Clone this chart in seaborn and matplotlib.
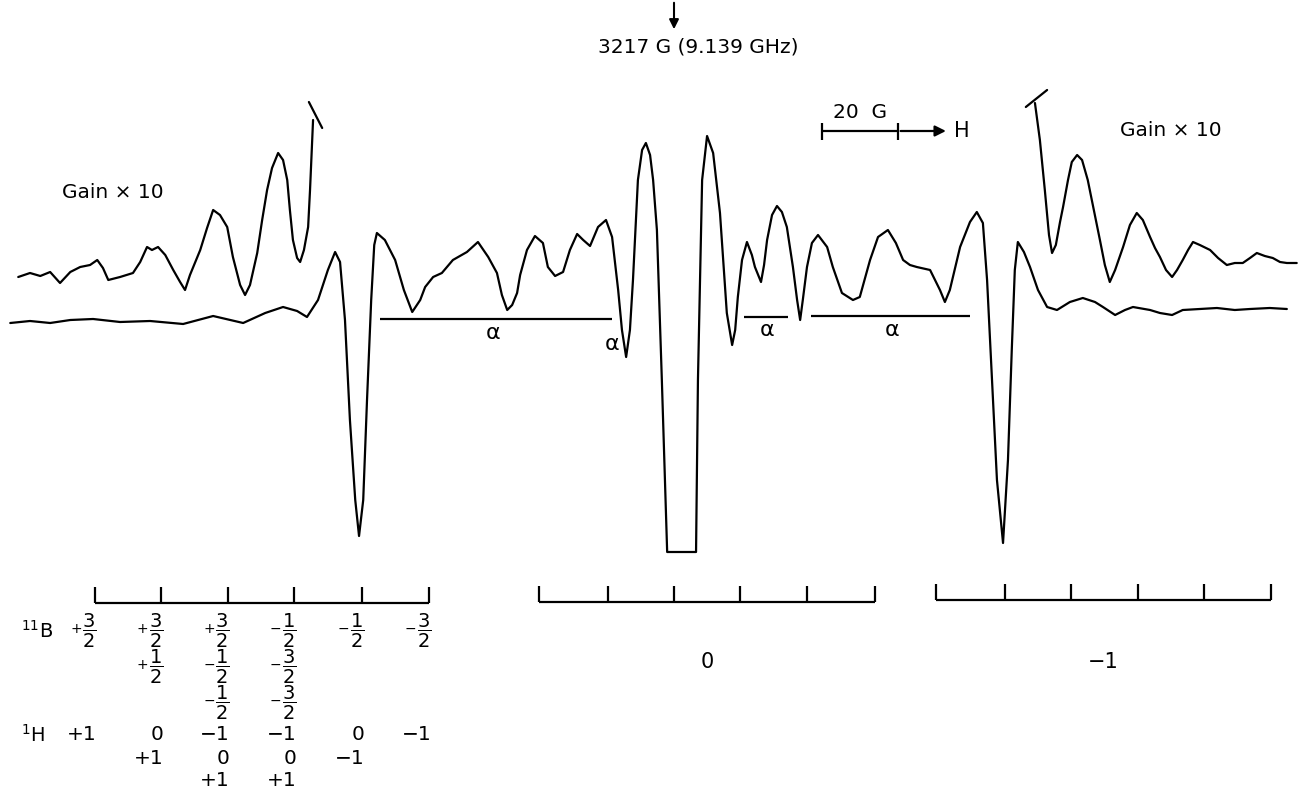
import numpy as np
import pandas as pd
import matplotlib.pyplot as plt
import seaborn as sns

# field offset from 3217 G (gauss) and derivative signal (arb. units)
main_field = [-174.7, -169.5, -164.2, -158.9, -152.9, -145.8, -137.9, -129.2, -121.3, -113.4,
              -107.6, -102.9, -99.2, -96.6, -93.7, -91.1, -89.2, -87.9, -86.6, -85.3,
              -83.9, -82.9, -81.8, -80.8, -79.7, -78.9, -78.2, -76.1, -73.4, -71.1,
              -68.9, -66.8, -65.5, -63.4, -61.1, -58.2, -54.5, -51.6, -48.9, -46.6,
              -45.3, -43.9, -42.6, -41.3, -40.5, -38.7, -36.6, -34.5, -33.2, -31.3,
              -29.2, -27.4, -25.5, -23.9, -22.1, -20.0, -17.9, -16.3, -14.7, -13.7,
              -12.6, -11.6, -10.8, -9.5, -8.4, -7.4, -6.3, -5.5, -4.5, -3.2,
              -1.8, 5.8, 6.3, 7.4, 8.7, 10.3, 12.1, 13.9, 15.3, 16.1,
              16.8, 17.9, 19.2, 20.5, 21.3, 22.9, 23.7, 24.5, 25.8, 27.1,
              28.4, 29.7, 31.3, 32.4, 33.2, 33.9, 35.0, 36.3, 37.9, 38.9,
              40.3, 41.8, 44.2, 47.1, 48.9, 51.6, 53.7, 56.3, 58.4, 60.3,
              62.1, 63.9, 67.4, 70.0, 71.3, 72.6, 75.3, 77.9, 79.7, 81.3,
              82.4, 83.7, 85.0, 86.6, 87.9, 88.9, 89.7, 90.5, 92.1, 93.7,
              95.8, 98.2, 100.8, 104.2, 107.6, 110.8, 112.9, 116.1, 118.7, 120.8,
              125.3, 127.9, 131.1, 133.9, 138.4, 142.9, 147.6, 151.6, 156.8, 161.3]
main_signal = [-1, 1, -1, 2, 3, 0, 1, -2, 6, -1,
               9, 15, 11, 5, 22, 52, 70, 60, 2, -98,
               -178, -214, -178, -78, 22, 77, 89, 82, 62, 32,
               10, 22, 35, 45, 49, 62, 70, 80, 65, 49,
               27, 12, 17, 29, 47, 72, 86, 79, 55, 46,
               50, 72, 88, 82, 76, 95, 102, 85, 32, -8,
               -35, -8, 42, 142, 172, 179, 167, 142, 92, -58,
               -230, -230, -58, 142, 186, 169, 109, 9, -23, -8,
               25, 62, 80, 67, 55, 40, 57, 82, 107, 116,
               110, 95, 55, 22, 2, 22, 55, 79, 87, 82,
               75, 55, 29, 22, 25, 62, 85, 92, 79, 62,
               57, 55, 52, 32, 20, 32, 75, 100, 110, 99,
               42, -58, -158, -221, -138, -28, 52, 80, 70, 55,
               32, 15, 12, 20, 24, 20, 15, 7, 12, 15,
               12, 9, 7, 12, 13, 14, 12, 13, 14, 13]

# gain x10 wings
left_field = [-172.6, -169.5, -166.8, -164.2, -161.6, -158.9, -156.3, -153.7, -151.8, -150.3,
              -148.9, -145.8, -142.4, -140.5, -138.7, -137.4, -135.8, -133.9, -131.8, -130.0,
              -128.7, -127.4, -124.7, -122.9, -121.3, -119.5, -117.6, -116.1, -114.2, -112.9,
              -111.6, -109.7, -108.4, -107.1, -105.8, -104.2, -102.9, -101.8, -101.1, -100.3,
              -99.2, -98.4, -97.4, -96.3, -95.8, -95.0]
left_signal = [45, 49, 46, 50, 39, 50, 55, 57, 62, 54,
               42, 45, 49, 60, 75, 72, 75, 67, 52, 40,
               32, 47, 72, 94, 112, 107, 95, 65, 37, 27,
               37, 69, 102, 132, 154, 169, 162, 142, 112, 82,
               64, 60, 72, 95, 132, 202]
right_field = [95.0, 96.3, 97.6, 98.7, 99.5, 100.5, 101.6, 102.4, 103.7, 104.7,
               106.1, 107.4, 108.9, 110.5, 112.1, 113.4, 114.7, 116.1, 118.2, 120.0,
               121.8, 123.4, 125.3, 126.6, 127.9, 129.5, 131.1, 132.4, 133.9, 135.3,
               136.6, 138.4, 141.1, 143.2, 145.5, 147.6, 149.7, 151.6, 153.4, 155.5,
               157.6, 159.5, 161.3, 163.9]
right_signal = [219, 182, 132, 87, 69, 77, 100, 115, 142, 160,
                167, 162, 142, 112, 82, 57, 40, 52, 75, 97,
                109, 102, 85, 74, 65, 52, 45, 52, 62, 72,
                80, 77, 72, 64, 57, 59, 59, 64, 69, 66,
                64, 60, 59, 59]

# stick diagrams (line positions, G)
sticks_left = [-152.5, -135.0, -117.5, -100.0, -82.0, -64.5]
sticks_mid = [-35.5, -17.5, 0.0, 17.5, 35.0, 53.0]
sticks_right = [69.0, 87.0, 104.5, 122.0, 139.5, 157.0]

b11_rows = [['+3/2', '+3/2', '+3/2', '-1/2', '-1/2', '-3/2'],
            ['', '+1/2', '-1/2', '-3/2', '', ''],
            ['', '', '-1/2', '-3/2', '', '']]
h1_rows = [['+1', '0', '−1', '−1', '0', '−1'],
           ['', '+1', '0', '0', '−1', ''],
           ['', '', '+1', '+1', '', '']]

sns.set_theme(style='white')
plt.rcParams['font.family'] = ['DejaVu Sans']
plt.rcParams['mathtext.fontset'] = 'dejavusans'
plt.rcParams['text.color'] = 'black'

fig = plt.figure(figsize=(12.99, 7.96), dpi=100)
ax = fig.add_axes([0, 0, 1, 1])

for fld, sig in [(main_field, main_signal), (left_field, left_signal), (right_field, right_signal)]:
    df = pd.DataFrame({'field': fld, 'signal': sig})
    sns.lineplot(data=df, x='field', y='signal', sort=False, estimator=None,
                 color='black', lw=1.6, ax=ax)
for ln in ax.lines:
    ln.set_solid_joinstyle('round')

# pen hooks at top of the gain x10 traces
ax.plot([-96.1, -92.6], [220, 194], color='black', lw=1.6)
ax.plot([92.6, 98.2], [215, 232], color='black', lw=1.6)

# alpha markers
ax.hlines([3, 5, 6], [-77.4, 18.4, 36.1], [-16.3, 30.0, 77.9], color='black', lw=1.6)
for x, y in [(-47.6, -11), (-16.3, -22), (24.5, -8), (57.4, -8)]:
    ax.text(x, y, 'α', ha='center', va='center', fontsize=16)

# centre field marker
ax.annotate('', xy=(0, 290), xytext=(0, 322),
            arrowprops=dict(arrowstyle='-|>', color='black', lw=1.5, mutation_scale=14))
ax.text(6.3, 275, '3217 G (9.139 GHz)', ha='center', va='center', fontsize=14.5)

# 20 G scale bar
ax.hlines(191, 38.9, 58.9, color='black', lw=1.6)
ax.vlines([38.9, 58.9], 182, 199, color='black', lw=1.6)
ax.annotate('', xy=(72.3, 191), xytext=(58.9, 191),
            arrowprops=dict(arrowstyle='-|>', color='black', lw=1.6, mutation_scale=16))
ax.text(49.0, 210, '20  G', ha='center', va='center', fontsize=14.5)
ax.text(73.8, 191, 'H', ha='left', va='center', fontsize=15)

ax.text(-161.0, 129, 'Gain × 10', ha='left', va='center', fontsize=14.5)
ax.text(117.4, 192, 'Gain × 10', ha='left', va='center', fontsize=14.5)

# stick diagrams
for ticks, base in [(sticks_left, -281), (sticks_mid, -280), (sticks_right, -278)]:
    ax.hlines(base, ticks[0], ticks[-1], color='black', lw=1.6)
    ax.vlines(ticks, base, base + 16, color='black', lw=1.6)

ax.text(8.7, -340, '0', ha='center', va='center', fontsize=15)
ax.text(112.9, -340, '−1', ha='center', va='center', fontsize=15)

ax.text(-171.8, -309, r'$^{11}$B', ha='left', va='center', fontsize=14)
ax.text(-171.8, -413, r'$^{1}$H', ha='left', va='center', fontsize=14)
for row, y in zip(b11_rows, [-309, -345, -381]):
    for x, lab in zip(sticks_left, row):
        if lab:
            num, den = lab[1:].split('/')
            ax.text(x + 0.6, y, r'$\dfrac{%s}{%s}$' % (num, den), ha='right', va='center', fontsize=14)
            ax.text(x - 3.4, y + 2, '+' if lab[0] == '+' else '−', ha='right', va='center', fontsize=10)
for row, y in zip(h1_rows, [-413, -436, -458]):
    for x, lab in zip(sticks_left, row):
        if lab:
            ax.text(x + 0.6, y, lab, ha='right', va='center', fontsize=14.5)

ax.set_xlim(-177.4, 164.5)
ax.set_ylim(-474, 322)
ax.axis('off')

fig.savefig('out.png', dpi=100, facecolor='white')
